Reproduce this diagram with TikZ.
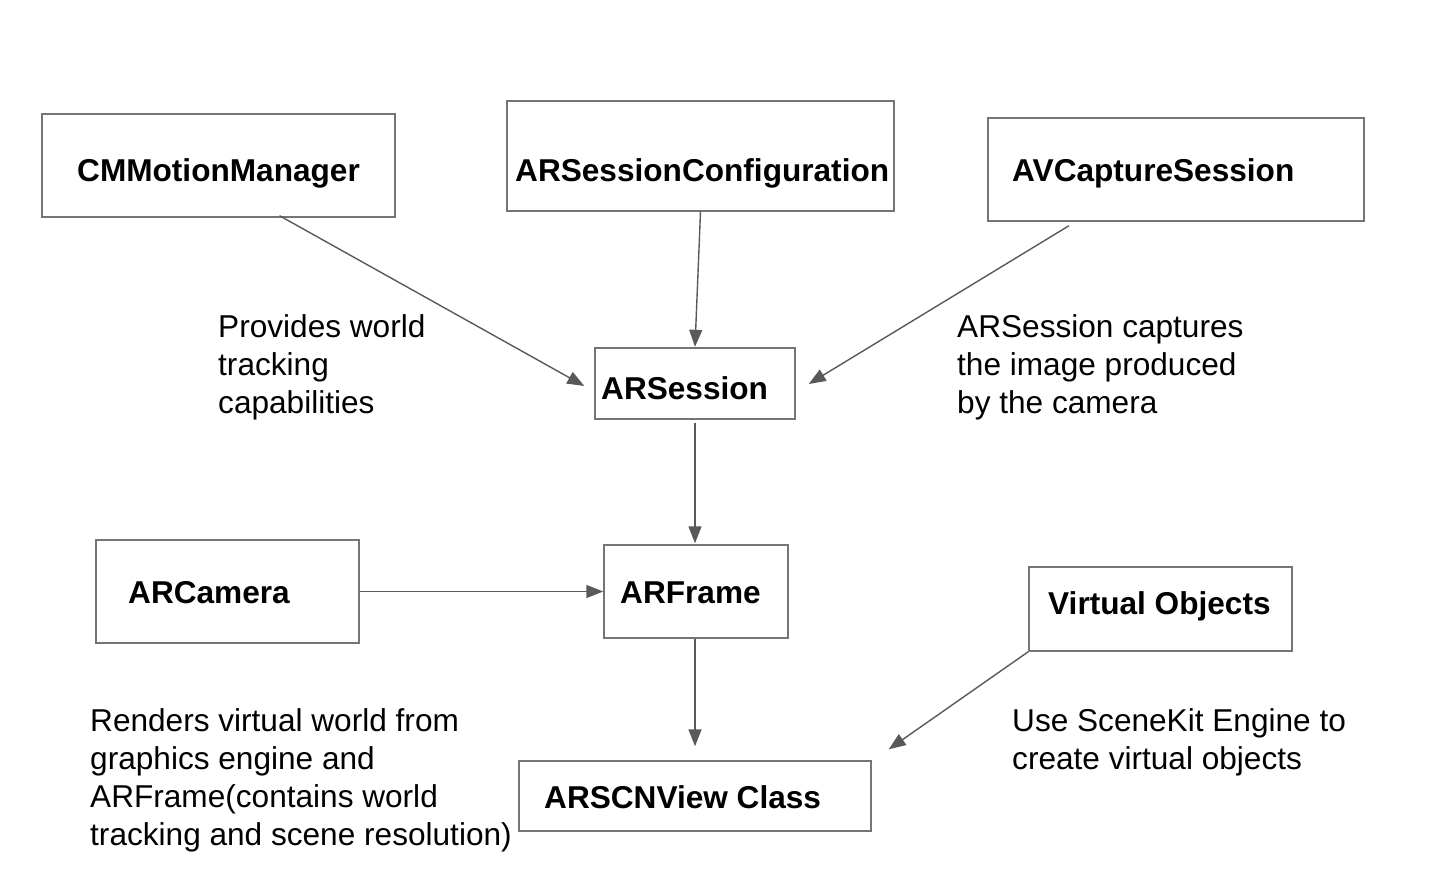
\documentclass[tikz,border=0pt]{standalone}
\usepackage{fontspec}
\setmainfont{Liberation Sans}
\usetikzlibrary{arrows.meta}
\definecolor{boxc}{HTML}{757575}
\definecolor{arrc}{HTML}{595959}
\tikzset{
  box/.style={draw=boxc, line width=1.4pt, rectangle, inner sep=0pt},
  bt/.style={font=\fontsize{31.6}{38}\selectfont\bfseries, inner sep=0pt, anchor=west},
  lt/.style={font=\fontsize{31.6}{38}\selectfont, inner sep=0pt, anchor=north west, align=left},
  arr/.style={draw=arrc, line width=1.4pt, -{Triangle[length=17pt,width=13pt]}}
}
\begin{document}
\begin{tikzpicture}[x=1pt,y=-1pt]
\useasboundingbox (0,0) rectangle (1432,876);
% boxes
\node[box, minimum width=353, minimum height=103] (cm) at (218.5,165.5) {};
\node[box, minimum width=387, minimum height=110] (cfg) at (700.5,156) {};
\node[box, minimum width=376, minimum height=103] (av) at (1176,169.5) {};
\node[box, minimum width=200, minimum height=71] (ars) at (695,383.5) {};
\node[box, minimum width=263, minimum height=103] (cam) at (227.5,591.5) {};
\node[box, minimum width=184, minimum height=93] (fr) at (696,591.5) {};
\node[box, minimum width=263, minimum height=84] (vo) at (1160.5,609) {};
\node[box, minimum width=352, minimum height=70] (scn) at (695,796) {};
% box texts
\node[bt] (tcm) at (77,173) {CMMotionManager};
\node[bt] (tcfg) at (515,173) {ARSessionConfiguration};
\node[bt] (tav) at (1012,173) {AVCaptureSession};
\node[bt] (tars) at (601,388) {ARSession};
\node[bt] (tcam) at (128,593) {ARCamera};
\node[bt] (tfr) at (620,593) {ARFrame};
\node[bt] (tvo) at (1048,606) {Virtual Objects};
\node[bt] (tscn) at (544,797) {ARSCNView Class};
% labels
\node[lt] (l1) at (218,314) {Provides world\\tracking\\capabilities};
\node[lt] (l2) at (957,314) {ARSession captures\\the image produced\\by the camera};
\node[lt] (l3) at (90,708) {Renders virtual world from\\graphics engine and\\ARFrame(contains world\\tracking and scene resolution)};
\node[lt] (l4) at (1012,708) {Use SceneKit Engine to\\create virtual objects};
% connectors
\draw[arr] ([xshift=61,yshift=2]cm.south) -- ([xshift=-10,yshift=-2.5]ars.west);
\draw[arr] (cfg.south) -- ([yshift=0.5]ars.north);
\draw[arr] ([xshift=-107,yshift=-4]av.south) -- ([xshift=13,yshift=-0.5]ars.east);
\draw[arr] ([yshift=-3]ars.south) -- ([yshift=1]fr.north -| ars.south);
\draw[arr] (cam.east) -- (fr.west);
\draw[arr] ([xshift=-1]fr.south) -- ([yshift=14]scn.north);
\draw[arr] (vo.south west) -- ([xshift=17,yshift=11]scn.north east);
\end{tikzpicture}
\end{document}
